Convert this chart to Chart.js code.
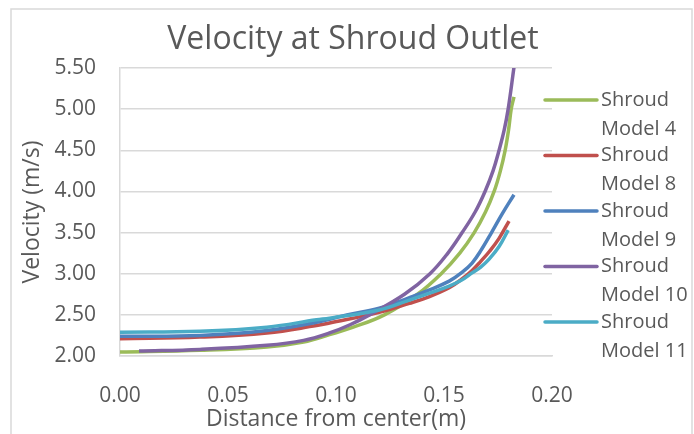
<!DOCTYPE html>
<html>
<head>
<meta charset="utf-8">
<script src="https://cdn.jsdelivr.net/npm/chart.js@4"></script>
<style>
  html, body { margin: 0; padding: 0; background: #fff; }
  #wrap { width: 694px; height: 434px; position: relative; }
</style>
</head>
<body>
<div id="wrap"><canvas id="velChart"></canvas></div>
<script>
// series: x = distance from center (m), y = velocity (m/s)
const names = ['Shroud Model 4', 'Shroud Model 8', 'Shroud Model 9', 'Shroud Model 10', 'Shroud Model 11'];
const colors = ['#9BBB59', '#C0504D', '#4F81BD', '#8064A2', '#4BACC6'];

const m4x = [0, 0.037, 0.068, 0.085, 0.097, 0.108, 0.1224, 0.1377, 0.1487, 0.1573, 0.164, 0.1692, 0.1732, 0.1761, 0.1783, 0.1799, 0.1811, 0.1824];
const m4y = [2.05, 2.07, 2.11, 2.17, 2.26, 2.35, 2.50, 2.75, 3.00, 3.25, 3.50, 3.75, 4.00, 4.25, 4.50, 4.75, 5.00, 5.15];

const m8x = [0, 0.037, 0.068, 0.091, 0.097, 0.120, 0.134, 0.143, 0.1524, 0.158, 0.163, 0.167, 0.171, 0.1755, 0.1801];
const m8y = [2.21, 2.23, 2.28, 2.37, 2.40, 2.53, 2.64, 2.72, 2.83, 2.93, 3.04, 3.15, 3.27, 3.43, 3.64];

const m9x = [0, 0.037, 0.068, 0.091, 0.105, 0.120, 0.134, 0.143, 0.1524, 0.158, 0.163, 0.1675, 0.172, 0.177, 0.1824];
const m9y = [2.24, 2.25, 2.31, 2.41, 2.50, 2.58, 2.71, 2.80, 2.91, 3.01, 3.13, 3.30, 3.50, 3.73, 3.96];

const m10x = [0.0088, 0.037, 0.068, 0.085, 0.097, 0.1065, 0.1155, 0.1317, 0.1435, 0.1518, 0.1584, 0.1644, 0.1690, 0.1727, 0.1755, 0.1779, 0.1797, 0.1824];
const m10y = [2.06, 2.08, 2.13, 2.19, 2.28, 2.38, 2.50, 2.75, 3.00, 3.25, 3.50, 3.75, 4.00, 4.25, 4.50, 4.75, 5.00, 5.51];

const m11x = [0, 0.037, 0.068, 0.091, 0.097, 0.120, 0.134, 0.143, 0.1524, 0.158, 0.163, 0.167, 0.171, 0.1755, 0.1797];
const m11y = [2.29, 2.30, 2.35, 2.44, 2.46, 2.56, 2.68, 2.76, 2.85, 2.92, 3.01, 3.08, 3.18, 3.33, 3.53];

const xTicks = [0, 0.05, 0.10, 0.15, 0.20];
const yTicks = [2.0, 2.5, 3.0, 3.5, 4.0, 4.5, 5.0, 5.5];

const seriesX = [m4x, m8x, m9x, m10x, m11x];
const seriesY = [m4y, m8y, m9y, m10y, m11y];

const FONT = "'Open Sans', 'Liberation Sans', sans-serif";
const TXT = '#595959';
const GRID = '#d9d9d9';

const datasets = names.map((name, i) => ({
  label: name,
  data: seriesX[i].map((x, k) => ({ x, y: seriesY[i][k] })),
  borderColor: colors[i],
  backgroundColor: colors[i],
  borderWidth: 3.5,
  pointRadius: 0,
  tension: 0.4,
  order: names.length - i,   // later series on top, like the original
  fill: false
}));

// outer frame of the chart object
const framePlugin = {
  id: 'frame',
  beforeDraw(chart) {
    const ctx = chart.ctx;
    ctx.save();
    ctx.strokeStyle = GRID;
    ctx.lineWidth = 1.5;
    ctx.strokeRect(11, 9, 681, 440);
    ctx.restore();
  }
};

// legend on the right, label wrapped onto two lines
const sideLegend = {
  id: 'sideLegend',
  afterDraw(chart) {
    const ctx = chart.ctx;
    const x0 = chart.chartArea.right - 9;
    const y0 = 100, step = 55.5;
    ctx.save();
    ctx.font = '20px ' + FONT;
    ctx.fillStyle = TXT;
    ctx.textBaseline = 'middle';
    ctx.textAlign = 'left';
    chart.data.datasets.forEach((ds, i) => {
      const y = y0 + i * step;
      ctx.strokeStyle = ds.borderColor;
      ctx.lineWidth = 3.5;
      ctx.lineCap = 'round';
      ctx.beginPath();
      ctx.moveTo(x0 + 2, y);
      ctx.lineTo(x0 + 54, y);
      ctx.stroke();
      const cut = ds.label.indexOf(' ');
      ctx.fillText(ds.label.slice(0, cut), x0 + 58, y);
      ctx.fillText(ds.label.slice(cut + 1), x0 + 58, y + 29);
    });
    ctx.restore();
  }
};

new Chart(document.getElementById('velChart'), {
  type: 'line',
  data: { datasets },
  options: {
    responsive: true,
    maintainAspectRatio: false,
    animation: false,
    layout: { padding: { left: 12, right: 0, top: 0, bottom: 0 } },
    plugins: {
      legend: { display: false },
      tooltip: { enabled: false },
      title: {
        display: true,
        text: 'Velocity at Shroud Outlet',
        color: TXT,
        font: { family: FONT, size: 32, weight: 'normal' },
        padding: { top: 21, bottom: 8.6 }
      }
    },
    scales: {
      x: {
        type: 'linear',
        min: 0,
        max: 0.2,
        afterBuildTicks: s => { s.ticks = xTicks.map(v => ({ value: v })); },
        afterFit: s => { s.height = 78; },
        ticks: {
          color: TXT,
          font: { family: FONT, size: 21 },
          padding: 27,
          callback: v => Number(v).toFixed(2)
        },
        grid: { display: false, drawTicks: false },
        border: { display: true, color: GRID, width: 1.5 },
        title: {
          display: true,
          text: 'Distance from center(m)',
          color: TXT,
          font: { family: FONT, size: 23 },
          padding: { top: 0, bottom: 1 }
        }
      },
      y: {
        min: 2,
        max: 5.5,
        afterBuildTicks: s => { s.ticks = yTicks.map(v => ({ value: v })); },
        afterFit: s => { s.width = 108; },
        ticks: {
          color: TXT,
          font: { family: FONT, size: 21 },
          padding: 24,
          callback: v => Number(v).toFixed(2)
        },
        grid: { color: GRID, lineWidth: 1.5, drawTicks: false },
        border: { display: true, color: GRID, width: 1.5 },
        title: {
          display: true,
          text: 'Velocity (m/s)',
          color: TXT,
          font: { family: FONT, size: 23 },
          padding: { top: 7, bottom: 0 }
        }
      },
      // empty axis that reserves the legend strip, so the title stays centred on the whole chart
      legendSpace: {
        type: 'linear',
        position: 'right',
        display: true,
        afterFit: s => { s.width = 142; },
        ticks: { display: false },
        grid: { display: false, drawTicks: false },
        border: { display: false }
      }
    }
  },
  plugins: [framePlugin, sideLegend]
});
</script>
</body>
</html>
